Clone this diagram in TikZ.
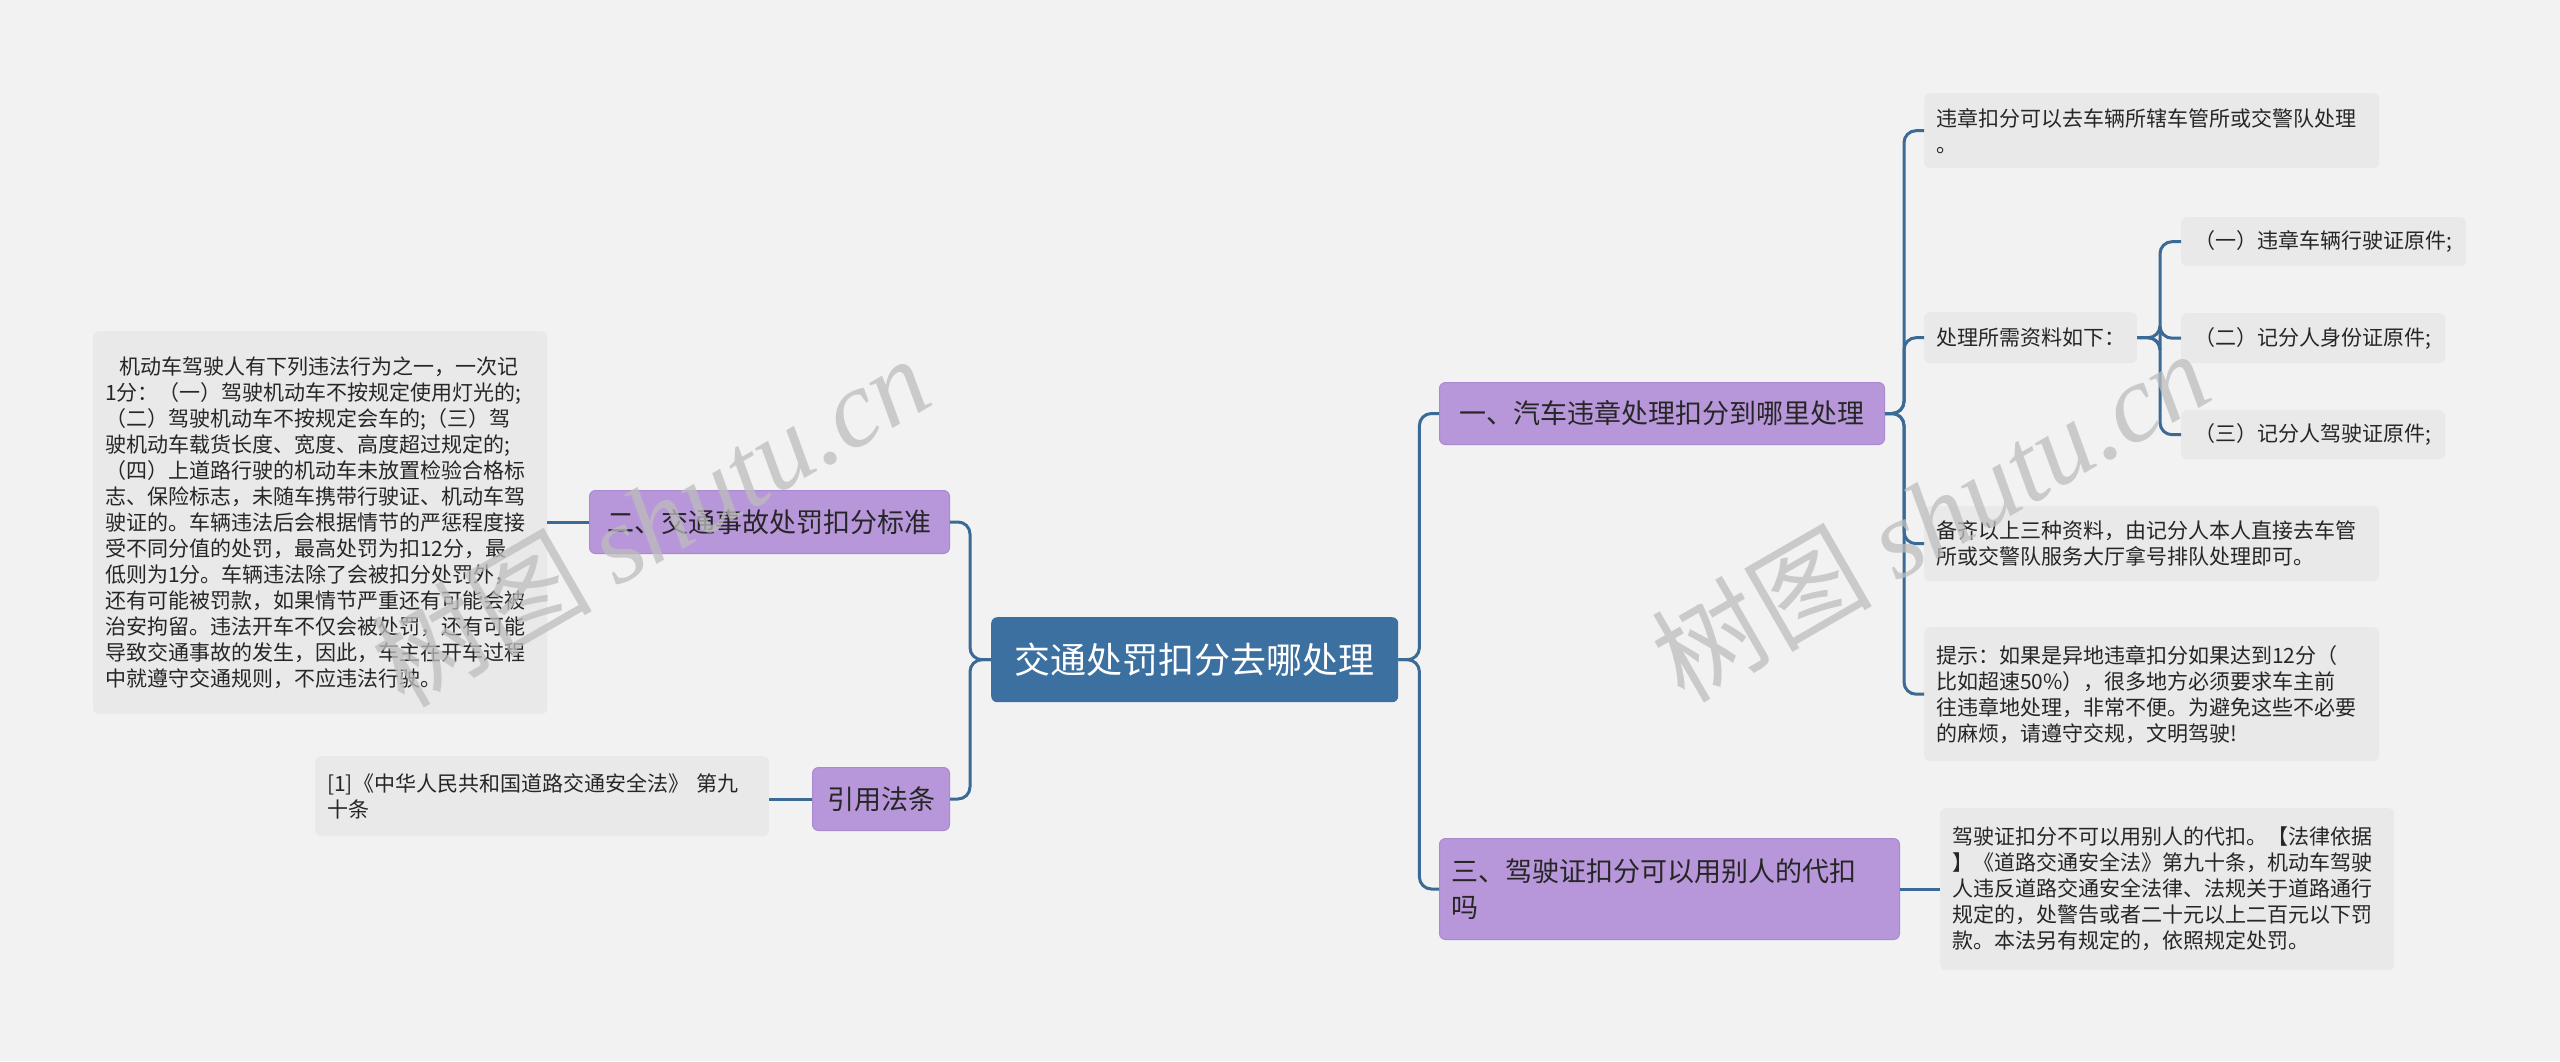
\documentclass[tikz,border=0pt]{standalone}
\usepackage{fontspec}
\setmainfont{Noto Sans CJK SC}
\newfontfamily\wmserif{Liberation Serif}
\usetikzlibrary{positioning}
\definecolor{bg}{HTML}{F2F2F2}
\definecolor{leafc}{HTML}{E9E9E9}
\definecolor{purp}{HTML}{B797D9}
\definecolor{purpb}{HTML}{A98AD0}
\definecolor{rootc}{HTML}{3B70A0}
\definecolor{linec}{HTML}{3C6A96}
\definecolor{wm}{HTML}{BDBDBD}
\tikzset{
 leaf/.style={fill=leafc,rounded corners=6pt,anchor=north west,inner xsep=12pt,inner ysep=0pt,align=left,font=\fontsize{21}{26}\selectfont,text=black!85},
 lvone/.style={fill=purp,draw=purpb,line width=1pt,rounded corners=6pt,anchor=north west,inner xsep=12pt,inner ysep=0pt,align=left,font=\fontsize{27}{36}\selectfont,text=black!85},
 rootbox/.style={fill=rootc,rounded corners=6pt,anchor=north west,inner sep=0pt,align=center,font=\fontsize{36}{44}\selectfont,text=white},
 conn/.style={draw=linec,line width=3pt,rounded corners=12pt},
 wmark/.style={text=wm,font=\fontsize{110}{110}\selectfont,rotate=30,opacity=0.75}
}
\begin{document}
\begin{tikzpicture}[x=1pt,y=-1pt]
\fill[bg] (0,0) rectangle (2560,1061);
\useasboundingbox (0,0) rectangle (2560,1061);
% root
\node[rootbox,minimum width=407pt,minimum height=85pt] (root) at (991,617) {交通处罚扣分去哪处理};
% level 1
\node[lvone,minimum width=445pt,minimum height=62pt] (A) at (1439,382) {一、汽车违章处理扣分到哪里处理};
\node[lvone,minimum width=460pt,minimum height=101pt,text width=436pt] (B) at (1439,838) {三、驾驶证扣分可以用别人的代扣\\吗};
\node[lvone,minimum width=360pt,minimum height=63pt] (C) at (589,490) {二、交通事故处罚扣分标准};
\node[lvone,minimum width=137pt,minimum height=63pt] (D) at (812,767) {引用法条};
% left leaves
\node[leaf,minimum width=454pt,minimum height=383pt,text width=430pt] (E) at (93,331) {\ \ 机动车驾驶人有下列违法行为之一，一次记\\1分：（一）驾驶机动车不按规定使用灯光的;\\（二）驾驶机动车不按规定会车的;（三）驾\\驶机动车载货长度、宽度、高度超过规定的;\\（四）上道路行驶的机动车未放置检验合格标\\志、保险标志，未随车携带行驶证、机动车驾\\驶证的。车辆违法后会根据情节的严惩程度接\\受不同分值的处罚，最高处罚为扣12分，最\\低则为1分。车辆违法除了会被扣分处罚外，\\还有可能被罚款，如果情节严重还有可能会被\\治安拘留。违法开车不仅会被处罚，还有可能\\导致交通事故的发生，因此，车主在开车过程\\中就遵守交通规则，不应违法行驶。};
\node[leaf,minimum width=454pt,minimum height=80pt,text width=430pt] (F) at (315,756) {[1]《中华人民共和国道路交通安全法》 第九\\十条};
% right leaves
\node[leaf,minimum width=455pt,minimum height=75pt,text width=431pt] (G) at (1924,93) {违章扣分可以去车辆所辖车管所或交警队处理\\。};
\node[leaf,minimum width=184pt,minimum height=51pt] (H) at (1924,312) {处理所需资料如下：};
\node[leaf,minimum width=285pt,minimum height=49pt] (H1) at (2181,217) {（一）违章车辆行驶证原件;};
\node[leaf,minimum width=264pt,minimum height=50pt] (H2) at (2181,313) {（二）记分人身份证原件;};
\node[leaf,minimum width=264pt,minimum height=49pt] (H3) at (2181,410) {（三）记分人驾驶证原件;};
\node[leaf,minimum width=455pt,minimum height=75pt,text width=431pt] (I) at (1924,506) {备齐以上三种资料，由记分人本人直接去车管\\所或交警队服务大厅拿号排队处理即可。};
\node[leaf,minimum width=455pt,minimum height=134pt,text width=431pt] (J) at (1924,627) {提示：如果是异地违章扣分如果达到12分（\\比如超速50\%），很多地方必须要求车主前\\往违章地处理，非常不便。为避免这些不必要\\的麻烦，请遵守交规，文明驾驶!};
\node[leaf,minimum width=454pt,minimum height=162pt,text width=430pt] (K) at (1940,808) {驾驶证扣分不可以用别人的代扣。【法律依据\\】《道路交通安全法》第九十条，机动车驾驶\\人违反道路交通安全法律、法规关于道路通行\\规定的，处警告或者二十元以上二百元以下罚\\款。本法另有规定的，依照规定处罚。};
% connectors
\draw[conn] (root.east) -- ([xshift=21pt]root.east) |- (A.west);
\draw[conn] (root.east) -- ([xshift=21pt]root.east) |- (B.west);
\draw[conn] (root.west) -- ([xshift=-21pt]root.west) |- (C.east);
\draw[conn] (root.west) -- ([xshift=-21pt]root.west) |- (D.east);
\draw[conn] (C.west) -- (E.east |- C.west);
\draw[conn] (D.west) -- (F.east |- D.west);
\foreach \t in {G,H,I,J}{\draw[conn] (A.east) -- ([xshift=19pt]A.east) |- (\t.west);}
\coordinate (hs) at ([xshift=-21pt]H2.west);
\foreach \t in {H1,H2,H3}{\draw[conn] (H.east) -- (hs |- H.east) |- (\t.west);}
\draw[conn] (B.east) -- (K.west |- B.east);
% watermarks
\node[wmark] (wm1) at (650,520) {树图 {\wmserif\itshape shutu.cn}};
\node[wmark] (wm2) at (1930,515) {树图 {\wmserif\itshape shutu.cn}};
\end{tikzpicture}
\end{document}
